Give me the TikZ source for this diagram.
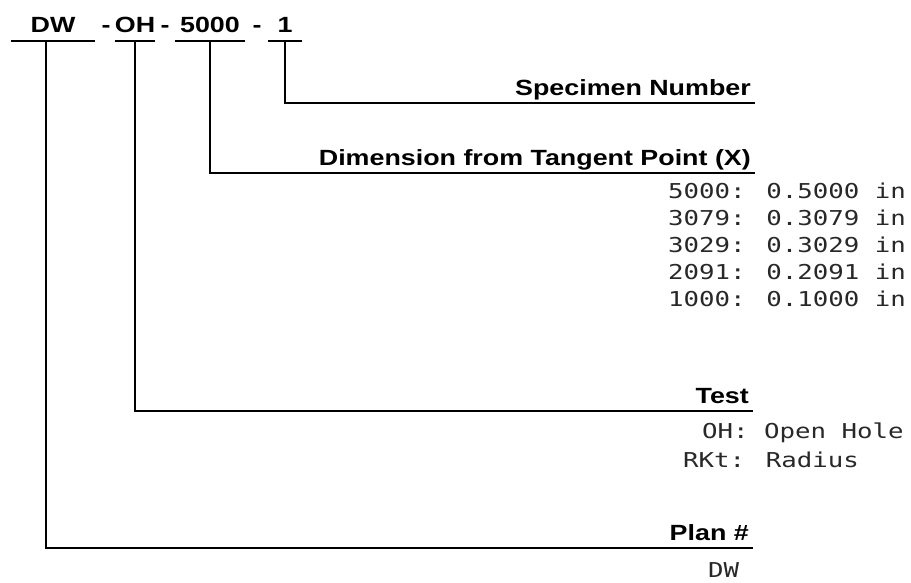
\documentclass[tikz,border=0pt]{standalone}
\usepackage{fontspec}
\usepackage{tikz}
\usetikzlibrary{positioning}
\newfontfamily\tagfont[FakeStretch=1.22]{Liberation Sans}
\newfontfamily\listfont[FakeStretch=1.256]{DejaVu Sans Mono}
\definecolor{ListGray}{RGB}{40,40,40}
\tikzset{
  code/.style={font=\tagfont\bfseries\fontsize{22}{26}\selectfont,inner sep=0pt,text height=17pt,text depth=9pt,anchor=base},
  tag/.style={font=\tagfont\bfseries\fontsize{22}{26}\selectfont,anchor=south east,inner xsep=4pt,inner ysep=0pt,text height=17pt,text depth=7pt},
  item/.style={font=\listfont\fontsize{20.5}{24}\selectfont,text=ListGray,inner sep=0pt,anchor=base west},
  rule/.style={draw=black,line width=1.6pt},
}

\begin{document}
\begin{tikzpicture}[x=1pt,y=-1pt]
\useasboundingbox (0,0) rectangle (911,582);
% code string
\node[code,minimum width=84pt](cDW) at (53,32){DW};\node[code,minimum width=36pt](cOH) at (135,32){OH};
\node[code,minimum width=70pt](cX) at (210,32){5000};\node[code,minimum width=34pt](cSpec) at (285,32){1};
\node[code](h1) at (106,32){-};\node[code](h2) at (165,32){-};\node[code](h3) at (257,32){-};
\foreach \n in {cDW,cOH,cX,cSpec} \draw[rule] (\n.south west)--(\n.south east);
% field labels
\node[tag](lSpec) at (755,103){Specimen Number};\node[tag](lDim) at (755,173){Dimension from Tangent Point (X)};
\node[tag](lTest) at (753,411){Test};\node[tag](lPlan) at (753,548){Plan \#};
\draw[rule] ([xshift=-7pt]cDW.south) |- (lPlan.south east);\draw[rule] (cOH.south) |- (lTest.south east);
\draw[rule] (cX.south) |- (lDim.south east);\draw[rule] (cSpec.south) |- (lSpec.south east);
% values
\foreach \v/\w [count=\i] in {5000/0.5000,3079/0.3079,3029/0.3029,2091/0.2091,1000/0.1000}
  \node[item](v\v) at (668,171+27*\i){\v: \w{} in};
\node[item](vOH) at (702,438){OH: Open Hole};\node[item](vRKt) at (683,467){RKt: Radius};
\node[item](vDW) at (708,577){DW};
\end{tikzpicture}
\end{document}
